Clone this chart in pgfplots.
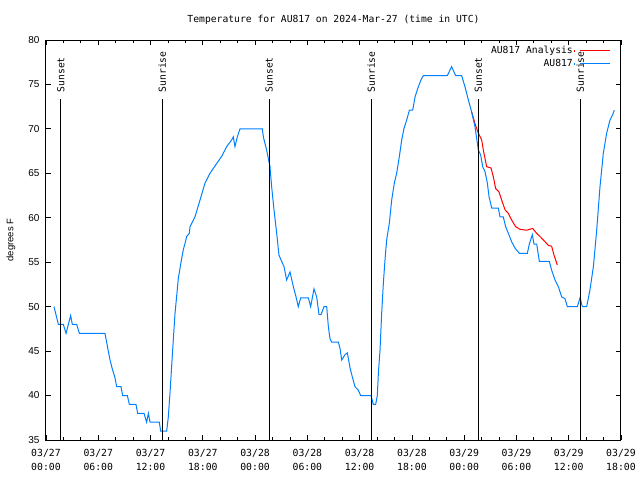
\documentclass[border=0pt]{standalone}
\usepackage{fontspec}
\setmainfont{Liberation Sans}
\newfontfamily\gmono{DejaVu Sans Mono}
\usepackage{pgfplots}
\pgfplotsset{compat=1.18}
\definecolor{gblue}{RGB}{0,128,255}
\definecolor{gred}{RGB}{255,0,0}
\begin{document}
\begin{tikzpicture}
\useasboundingbox (-46bp,-40bp) rectangle (594bp,440bp);
\begin{axis}[
  scale only axis, width=575bp, height=400bp,
  xmin=0, xmax=66, ymin=35, ymax=80,
  xtick={0,6,...,66},
  xticklabels={{03/27\\00:00},{03/27\\06:00},{03/27\\12:00},{03/27\\18:00},{03/28\\00:00},{03/28\\06:00},{03/28\\12:00},{03/28\\18:00},{03/29\\00:00},{03/29\\06:00},{03/29\\12:00},{03/29\\18:00}},
  minor x tick num=2,
  ytick={35,40,...,80},
  major tick length=5bp, minor tick length=3bp,
  tick style={black, line width=0.8bp},
  axis line style={black, line width=1bp},
  /pgf/number format/assume math mode=true,
  yticklabel style={font=\fontsize{10bp}{12bp}\selectfont, xshift=-3bp},
  xticklabel style={align=center, font=\gmono\fontsize{9.8bp}{14bp}\selectfont, yshift=-6bp},
  ylabel={degrees F},
  ylabel style={at={(axis description cs:0,0.5)}, anchor=center, rotate=0, yshift=35bp, font=\fontsize{9.5bp}{11bp}\selectfont},
  title={Temperature for AU817 on 2024-Mar-27 (time in UTC)},
  title style={at={(axis description cs:0.5,1)}, anchor=base, yshift=12bp, font=\gmono\fontsize{9.7bp}{12bp}\selectfont},
  legend style={draw=none, fill=none, at={(axis description cs:1,1)}, anchor=north east, xshift=-7bp, yshift=-3bp,
    font=\gmono\fontsize{9.7bp}{12bp}\selectfont,
    nodes={inner sep=1bp, text height=7bp, text depth=2bp}, row sep=2bp},
  legend cell align=right,
  legend plot pos=right,
  legend image code/.code={\path (0bp,-1bp) -- (0bp,1bp); \draw[#1] (6bp,0bp) -- (36bp,0bp);},
]
\addplot[gred, line width=1bp] coordinates {
(48.86,71.9) (49.24,70.6) (49.63,69.5) (50.01,68.75) (50.2,67.6) (50.58,65.75) (51.08,65.6) (51.35,64.6) (51.61,63.3) (52.0,62.9) (52.3,62) (52.69,60.9) (53.07,60.5) (53.45,59.75) (53.91,59) (54.41,58.7) (55.17,58.6) (55.86,58.8) (56.32,58.25) (56.7,57.9) (57.28,57.3) (57.66,56.9) (58.04,56.8) (58.31,55.8) (58.69,54.7)
};
\addlegendentry{AU817 Analysis}
\addplot[gblue, line width=1bp] coordinates {
(0.92,50) (1.42,48) (1.99,48) (2.3,47) (2.83,49) (3.02,48) (3.52,48) (3.83,47) (6.77,47) (6.96,46) (7.15,45) (7.35,44) (7.61,43) (7.92,42) (8.11,41) (8.61,41) (8.8,40) (9.34,40) (9.57,39) (10.33,39) (10.52,38) (11.25,38) (11.55,37) (11.75,38) (11.94,37) (13.01,37) (13.16,36) (13.85,36)
(14.04,37.6) (14.23,40.25) (14.42,43.25) (14.61,46.25) (14.81,49.25) (15.0,51.2) (15.19,53.2) (15.38,54.3) (15.57,55.4) (15.76,56.4) (15.95,57.1) (16.15,57.9) (16.45,58.25) (16.53,59.0) (17.1,60.1) (17.68,62) (18.25,63.9) (18.82,65) (19.59,66.1) (20.16,66.9) (20.74,68) (21.31,68.75) (21.5,69.1) (21.69,68) (21.96,69.1) (22.27,70) (24.83,70)
(24.95,69.1) (25.33,67.6) (25.71,65.75) (25.9,63.5) (26.17,60.9) (26.48,58.25) (26.74,55.8) (27.05,55.1) (27.32,54.5) (27.62,53.0) (28.01,53.9) (28.39,52.25) (28.7,51.1) (28.96,50) (29.23,51) (30.11,51) (30.38,50) (30.76,52) (31.07,51.1) (31.34,49.1) (31.57,49.1) (31.91,50) (32.22,50) (32.41,47.75) (32.6,46.4) (32.79,46) (33.56,46) (33.75,45.3) (33.94,44.0) (34.32,44.6) (34.59,44.8) (34.9,43.1) (35.16,42.1) (35.47,41) (35.85,40.6) (36.12,40) (37.31,40)
(37.57,39) (37.84,39) (38.03,40) (38.15,42.5) (38.34,45.1) (38.53,49.25) (38.72,52.6) (38.91,55.25) (39.1,57.5) (39.41,59.4) (39.68,62) (39.98,63.9) (40.25,65) (40.56,66.9) (40.83,68.75) (41.09,70.06) (41.4,71) (41.71,72.1) (42.09,72.1) (42.36,73.6) (42.74,74.75) (43.04,75.5) (43.31,76) (46.07,76) (46.56,77) (47.02,76) (47.71,76)
(48.09,74.75) (48.48,73.25) (48.86,71.9) (49.24,70.25) (49.63,67.6) (49.89,67.1) (50.12,65.75) (50.39,65.2) (50.66,63.9) (50.85,62.4) (51.16,61.1) (51.92,61.1) (52.11,60.1) (52.49,60.1) (52.76,59) (53.07,58.25) (53.45,57.3) (53.83,56.6) (54.33,56) (55.25,56) (55.48,57.05) (55.82,58.1) (56.01,57.05) (56.32,57.05) (56.63,55.1) (57.77,55.1) (58.04,54.1) (58.43,53) (58.81,52.25) (59.19,51.1) (59.57,50.9) (59.84,50) (60.99,50) (61.3,51) (61.56,50) (62.06,50) (62.44,51.9) (62.83,54.5) (63.21,58.6) (63.59,63.5) (63.97,67.25) (64.35,69.5) (64.74,71) (65.04,71.6) (65.23,72.1)
};
\addlegendentry{AU817}
\foreach \s/\lab in {1.69/Sunset,13.35/Sunrise,25.6/Sunset,37.34/Sunrise,49.62/Sunset,61.33/Sunrise}{
  \edef\tmp{\noexpand\addplot[black, line width=1bp, forget plot] coordinates {(\s,35) (\s,73.33)};
  \noexpand\node[rotate=90, anchor=west, inner sep=0pt, font=\noexpand\gmono\noexpand\fontsize{9.7bp}{12bp}\noexpand\selectfont] at (axis cs:\s,74.1) {\lab};}
  \tmp
}
\end{axis}
\end{tikzpicture}
\end{document}
